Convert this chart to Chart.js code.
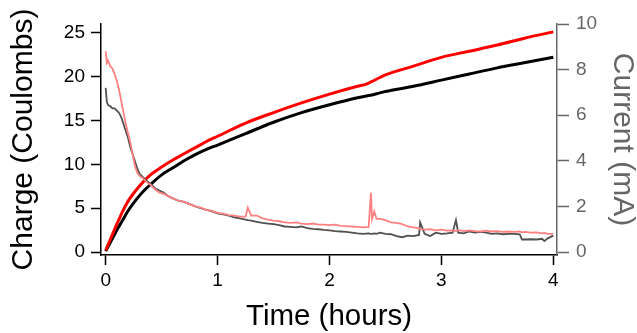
<!DOCTYPE html>
<html>
<head>
<meta charset="utf-8">
<script src="https://cdn.jsdelivr.net/npm/chart.js@4"></script>
<style>
  html, body { margin: 0; padding: 0; background: #fff; }
  #wrap { width: 637px; height: 333px; position: relative; }
</style>
</head>
<body>
<div id="wrap"><canvas id="chargeChart"></canvas></div>
<script>
// tick labels
const timeTicks = [0, 1, 2, 3, 4];
const chargeTicks = [0, 5, 10, 15, 20, 25];
const currentTicks = [0, 2, 4, 6, 8, 10];

// charge (Coulombs) vs time (hours)
const chargeTime = [0, 0.025, 0.05, 0.075, 0.1, 0.125, 0.15, 0.2, 0.25, 0.3, 0.35, 0.4, 0.5, 0.6, 0.7, 0.8, 0.9, 1.0, 1.25, 1.5, 1.75, 2.0, 2.25, 2.33, 2.38, 2.45, 2.5, 2.75, 3.0, 3.25, 3.5, 3.75, 4.0];
const redCharge = [0.2, 0.95, 1.7, 2.45, 3.2, 3.9, 4.6, 5.8, 6.7, 7.5, 8.2, 8.8, 9.7, 10.5, 11.2, 11.9, 12.6, 13.2, 14.7, 15.9, 17.0, 18.0, 18.9, 19.15, 19.45, 19.9, 20.2, 21.2, 22.2, 22.9, 23.6, 24.4, 25.1];
const blackCharge = [0.1, 0.7, 1.3, 1.9, 2.5, 3.05, 3.6, 4.7, 5.6, 6.4, 7.1, 7.7, 8.8, 9.6, 10.4, 11.1, 11.7, 12.2, 13.5, 14.8, 15.9, 16.8, 17.6, 17.8, 17.9, 18.15, 18.3, 18.9, 19.6, 20.3, 21.0, 21.6, 22.2];

// current (mA) vs time (hours)
const currentTime = [0, 0.01, 0.02, 0.04, 0.06, 0.08, 0.10, 0.12, 0.14, 0.16, 0.18, 0.20, 0.22, 0.24, 0.26, 0.28, 0.30, 0.33, 0.36, 0.40,
  0.44, 0.48, 0.52, 0.56, 0.60, 0.65, 0.70, 0.75, 0.80, 0.85, 0.90, 0.95, 1.00, 1.05, 1.10, 1.15, 1.20, 1.25, 1.27, 1.30,
  1.35, 1.40, 1.45, 1.50, 1.55, 1.60, 1.65, 1.70, 1.75, 1.80, 1.85, 1.90, 1.95, 2.00, 2.05, 2.10, 2.15, 2.20, 2.25, 2.30,
  2.35, 2.37, 2.38, 2.40, 2.42, 2.45, 2.50, 2.55, 2.60, 2.65, 2.70, 2.75, 2.80, 2.81, 2.85, 2.90, 2.95, 3.00, 3.05, 3.10,
  3.13, 3.15, 3.20, 3.25, 3.30, 3.35, 3.40, 3.45, 3.50, 3.55, 3.60, 3.65, 3.70, 3.72, 3.75, 3.80, 3.85, 3.90, 3.92, 3.95, 4.00];
const pinkCurrent = [8.8, 8.3, 8.4, 8.15, 8.05, 7.8, 7.5, 7.1, 6.6, 6.1, 5.6, 5.2, 4.8, 4.3, 3.8, 3.5, 3.35, 3.25, 3.1, 2.95,
  2.75, 2.6, 2.55, 2.45, 2.35, 2.25, 2.2, 2.1, 2.0, 1.95, 1.85, 1.8, 1.72, 1.68, 1.62, 1.6, 1.55, 1.55, 1.95, 1.6,
  1.6, 1.48, 1.42, 1.38, 1.35, 1.3, 1.28, 1.3, 1.25, 1.22, 1.25, 1.2, 1.2, 1.18, 1.2, 1.15, 1.14, 1.12, 1.1, 1.08,
  1.1, 2.6, 1.45, 1.78, 1.45, 1.45, 1.4, 1.3, 1.28, 1.22, 1.12, 1.08, 1.05, 1.0, 0.98, 1.0, 0.95, 0.98, 0.94, 0.95,
  0.92, 0.96, 0.92, 0.95, 0.92, 0.9, 0.94, 0.9, 0.92, 0.88, 0.9, 0.88, 0.9, 0.86, 0.88, 0.85, 0.86, 0.82, 0.84, 0.8, 0.8];
const grayCurrent = [7.2, 6.6, 6.45, 6.4, 6.3, 6.3, 6.2, 6.1, 5.9, 5.6, 5.3, 5.0, 4.6, 4.3, 4.0, 3.7, 3.45, 3.3, 3.15, 3.0,
  2.8, 2.7, 2.6, 2.45, 2.35, 2.25, 2.2, 2.1, 2.0, 1.92, 1.85, 1.78, 1.7, 1.65, 1.6, 1.52, 1.48, 1.42, 1.4, 1.38,
  1.32, 1.28, 1.25, 1.22, 1.18, 1.12, 1.1, 1.08, 1.12, 1.05, 1.02, 1.0, 0.97, 0.95, 0.92, 0.9, 0.88, 0.85, 0.82, 0.8,
  0.82, 0.8, 0.8, 0.82, 0.8, 0.85, 0.8, 0.78, 0.7, 0.65, 0.72, 0.7, 0.75, 1.3, 0.8, 0.7, 0.85, 0.8, 0.82, 0.85,
  1.4, 0.85, 0.82, 0.9, 0.85, 0.88, 0.85, 0.8, 0.82, 0.78, 0.8, 0.8, 0.78, 0.55, 0.55, 0.56, 0.55, 0.58, 0.48, 0.6, 0.72];

const pts = (xs, ys) => xs.map((x, i) => ({ x: x, y: ys[i] }));
const fixTicks = vals => scale => { scale.ticks = vals.map(v => ({ value: v })); };

const FONT = "'Liberation Sans', Arial, sans-serif";
const GRAY = '#666666';

new Chart(document.getElementById('chargeChart'), {
    type: 'line',
    data: {
        datasets: [
            { label: 'Current 2', data: pts(currentTime, pinkCurrent), yAxisID: 'y1', borderColor: '#ff8080', borderWidth: 1.8, pointRadius: 0, order: 0 },
            { label: 'Current 1', data: pts(currentTime, grayCurrent), yAxisID: 'y1', borderColor: '#505050', borderWidth: 1.8, pointRadius: 0, order: 1 },
            { label: 'Charge 2', data: pts(chargeTime, redCharge), yAxisID: 'y', borderColor: '#ff0000', borderWidth: 3, pointRadius: 0, cubicInterpolationMode: 'monotone', order: 2 },
            { label: 'Charge 1', data: pts(chargeTime, blackCharge), yAxisID: 'y', borderColor: '#000000', borderWidth: 3, pointRadius: 0, cubicInterpolationMode: 'monotone', order: 3 }
        ]
    },
    options: {
        responsive: true,
        maintainAspectRatio: false,
        animation: false,
        layout: { padding: { top: 24, left: 0, right: 0, bottom: 0 } },
        scales: {
            x: {
                type: 'linear',
                min: -0.042,
                max: 4.033,
                afterBuildTicks: fixTicks(timeTicks),
                afterFit: s => { s.height = 78; },
                grid: { drawOnChartArea: false, tickLength: 10, tickWidth: 1.5, tickColor: '#000' },
                border: { display: true, color: '#000', width: 1.5 },
                ticks: { color: '#000', padding: 4, font: { family: FONT, size: 19 } },
                title: { display: true, text: 'Time (hours)', color: '#000', padding: { top: 0, bottom: 1 }, font: { family: FONT, size: 29.5, lineHeight: 1 } }
            },
            y: {
                position: 'left',
                min: -0.34,
                max: 26,
                afterBuildTicks: fixTicks(chargeTicks),
                afterFit: s => { s.width = 101; },
                grid: { drawOnChartArea: false, tickLength: 10, tickWidth: 1.5, tickColor: '#000' },
                border: { display: true, color: '#000', width: 1.5 },
                ticks: { color: '#000', padding: 6, font: { family: FONT, size: 19 } },
                title: { display: true, text: 'Charge (Coulombs)', color: '#000', padding: { top: 9, bottom: 0 }, font: { family: FONT, size: 30, lineHeight: 1 } }
            },
            y1: {
                position: 'right',
                min: -0.13,
                max: 10,
                afterBuildTicks: fixTicks(currentTicks),
                afterFit: s => { s.width = 80; },
                grid: { drawOnChartArea: false, tickLength: 12, tickWidth: 1.5, tickColor: GRAY },
                border: { display: true, color: GRAY, width: 1.5 },
                ticks: { color: GRAY, padding: 7, font: { family: FONT, size: 19 } },
                title: { display: true, text: 'Current (mA)', color: GRAY, padding: { top: 0, bottom: 0 }, font: { family: FONT, size: 30, lineHeight: 1 } }
            }
        },
        plugins: {
            legend: { display: false },
            tooltip: { enabled: false }
        }
    }
});
</script>
</body>
</html>
